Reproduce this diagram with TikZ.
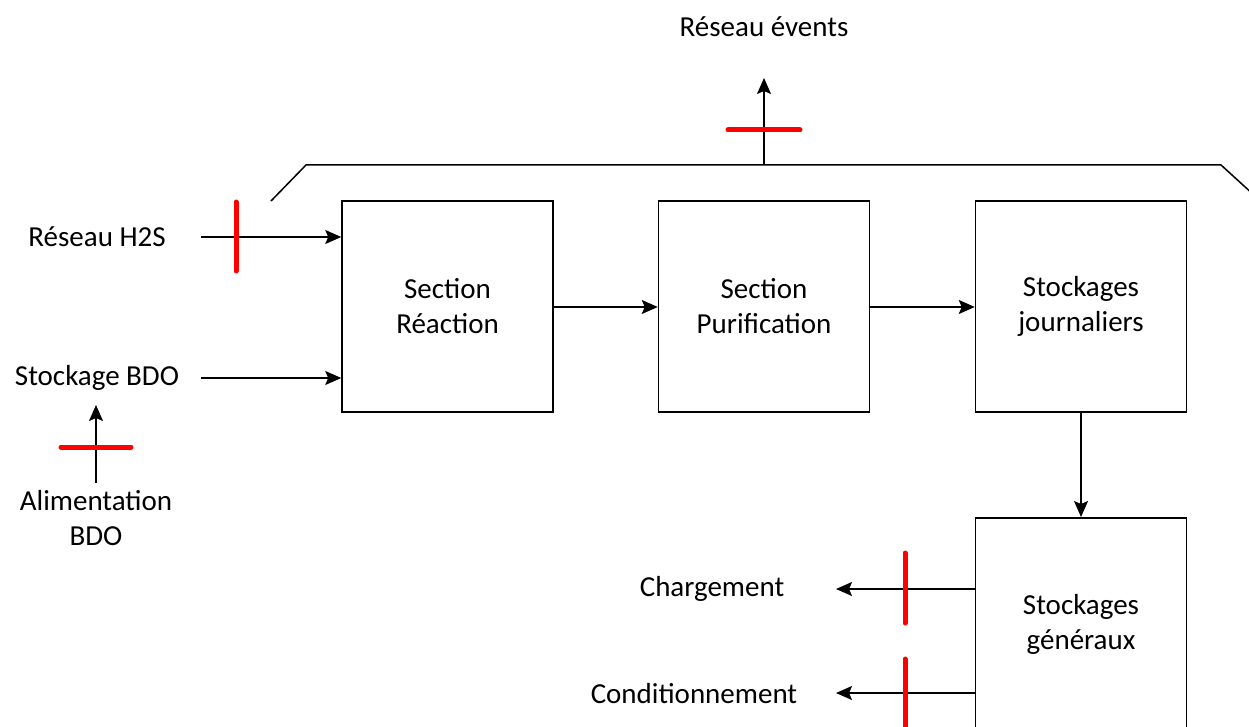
\documentclass[tikz,border=0pt]{standalone}
\usepackage{fontspec}
\setmainfont{Carlito}
\usetikzlibrary{arrows.meta}
\begin{document}
\begin{tikzpicture}[x=1pt,y=-1pt,
  txt/.style={font=\fontsize{29}{35}\selectfont, align=center, inner sep=0pt},
  blk/.style={draw, line width=1.5pt, minimum width=211pt, minimum height=211pt, txt},
  flow/.style={line width=1.5pt, -{Stealth[length=16pt,width=14pt,inset=3pt]}},
  vanne/.style={red, line width=5pt, line cap=round},
  ln/.style={line width=1.5pt}]
\useasboundingbox (0,0) rectangle (1249,727);
\begin{scope}
\clip (0,0) rectangle (1249,727);
% blocks
\node[blk] (rea) at (447.5,306.5) {Section\\Réaction};
\node[blk] (pur) at (764,306.5) {Section\\Purification};
\node[blk] (jou) at (1081,306.5) {Stockages\\journaliers};
\node[blk, anchor=north, minimum height=240pt] (gen) at (1081,517) {};
\node[txt] at (1081,624) {Stockages\\généraux};
% hood
\coordinate (h1) at (271,201);
\coordinate (h2) at (306,165);
\coordinate (h3) at (1221,165);
\coordinate (h4) at (1255,196);
\draw[ln] (h1) -- (h2) -- (h3) -- (h4);
\coordinate (vb) at (764,165);
\node[txt] (vent) at (764,27) {Réseau évents};
\coordinate (vt) at (764,78);
\draw[flow] (vb) -- (vt);
\draw[vanne] (728,130) -- (800,130);
% inputs
\node[txt] (h2s) at (97,237) {Réseau H2S};
\coordinate (h2sa) at (201,237);
\draw[flow] (h2sa) -- (rea.west |- h2sa);
\draw[vanne] (236,202) -- (236,271);
\node[txt] (bdo) at (97,378) {Stockage BDO};
\coordinate (bdoa) at (201,378);
\draw[flow] (bdoa) -- (rea.west |- bdoa);
\node[txt] (ali) at (96,518) {Alimentation\\BDO};
\coordinate (alia) at (96,483);
\coordinate (alib) at (96,405);
\draw[flow] (alia) -- (alib);
\draw[vanne] (61,447) -- (131,447);
% flows between blocks
\draw[flow] (rea.east |- 0,307) -- (pur.west |- 0,307);
\draw[flow] (pur.east |- 0,307) -- (jou.west |- 0,307);
\draw[flow] (jou.south) -- (gen.north);
% outputs
\node[txt] (cha) at (712,589) {Chargement};
\coordinate (chaa) at (836,589);
\draw[flow] (gen.west |- chaa) -- (chaa);
\draw[vanne] (905,553) -- (905,623);
\node[txt] (con) at (694,694) {Conditionnement};
\coordinate (cona) at (836,693);
\draw[flow] (gen.west |- cona) -- (cona);
\draw[vanne] (905,659) -- (905,740);
\end{scope}
\end{tikzpicture}
\end{document}
